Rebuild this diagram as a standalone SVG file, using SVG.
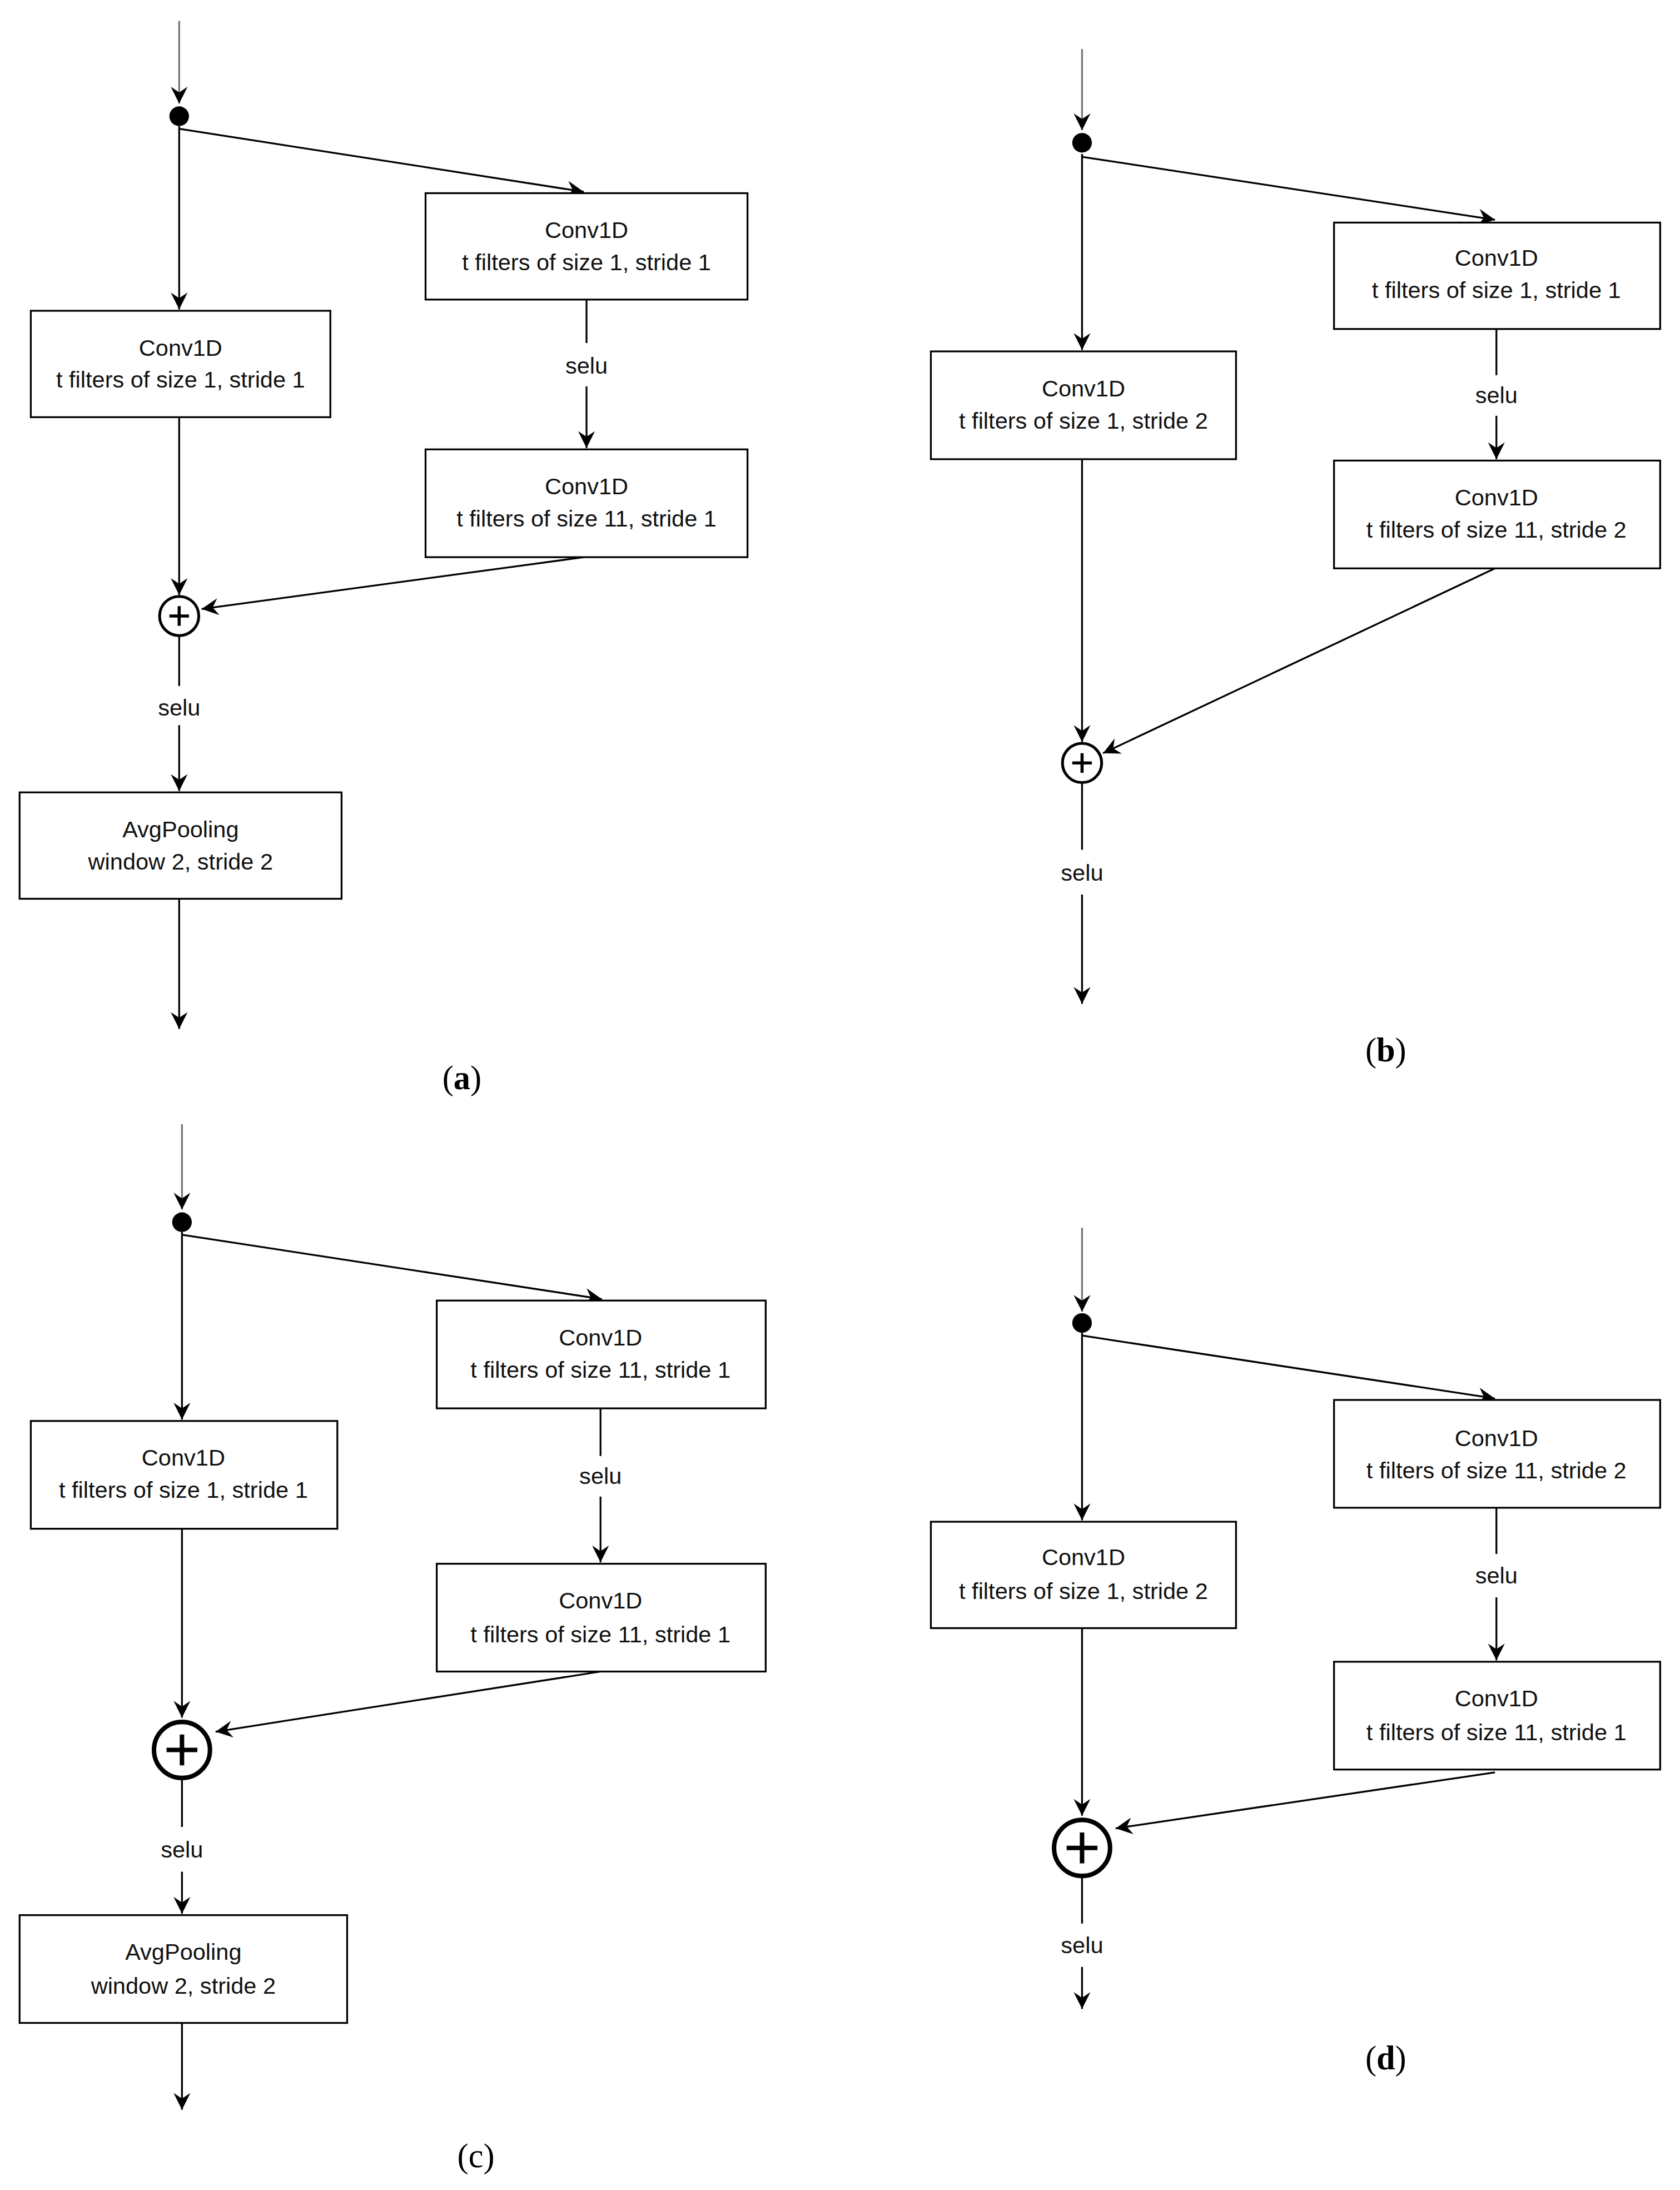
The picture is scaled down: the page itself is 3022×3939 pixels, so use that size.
<svg xmlns="http://www.w3.org/2000/svg" width="3022" height="3939" viewBox="0 0 3022 3939">
<style>
.b{fill:#fff;stroke:#000;stroke-width:1.3}
.t{font-family:"Liberation Sans",Arial,sans-serif;font-size:16.5px;text-anchor:middle;fill:#111}
.c line,.c path{stroke:#000;stroke-width:1.3;fill:none}
.c .g{stroke:#777}
.a{marker-end:url(#ah)}
.cap{font-family:"Liberation Serif","Times New Roman",serif;font-size:24px;text-anchor:middle}
.sum{fill:#fff;stroke:#000}
</style>
<defs>
<marker id="ah" markerUnits="userSpaceOnUse" markerWidth="14" markerHeight="14" viewBox="0 0 14 14" refX="12" refY="7" orient="auto">
<path d="M0,1 L12,7 L0,13 L4,7 Z" fill="#000"/>
</marker>
</defs>
<rect width="3022" height="3939" fill="#fff"/>
<g transform="scale(2.518)">
<g class="c" id="connectors">
<!-- a -->
<line class="g a" x1="128" y1="15" x2="128" y2="74"/>
<line class="a" x1="128" y1="92" x2="417" y2="137"/>
<line class="a" x1="128" y1="90" x2="128" y2="221"/>
<line x1="419" y1="214" x2="419" y2="245"/>
<line class="a" x1="419" y1="276" x2="419" y2="320"/>
<line class="a" x1="128" y1="298" x2="128" y2="425"/>
<line class="a" x1="417" y1="398" x2="144" y2="435"/>
<line x1="128" y1="454" x2="128" y2="490"/>
<line class="a" x1="128" y1="518" x2="128" y2="565"/>
<line class="a" x1="128" y1="642" x2="128" y2="735"/>
<!-- b -->
<line class="g a" x1="773" y1="35" x2="773" y2="93"/>
<line class="a" x1="773" y1="112" x2="1068" y2="157"/>
<line class="a" x1="773" y1="110" x2="773" y2="250"/>
<line x1="1069" y1="235" x2="1069" y2="268"/>
<line class="a" x1="1069" y1="297" x2="1069" y2="328"/>
<line class="a" x1="773" y1="328" x2="773" y2="530"/>
<line class="a" x1="1068" y1="406" x2="788" y2="538"/>
<line x1="773" y1="559" x2="773" y2="607"/>
<line class="a" x1="773" y1="639" x2="773" y2="717"/>
<!-- c -->
<line class="g a" x1="130" y1="803" x2="130" y2="864"/>
<line class="a" x1="130" y1="882" x2="430" y2="928"/>
<line class="a" x1="130" y1="880" x2="130" y2="1014"/>
<line x1="429" y1="1006" x2="429" y2="1040"/>
<line class="a" x1="429" y1="1069" x2="429" y2="1116"/>
<line class="a" x1="130" y1="1092" x2="130" y2="1227"/>
<line class="a" x1="429" y1="1194" x2="154" y2="1237"/>
<line x1="130" y1="1271" x2="130" y2="1305"/>
<line class="a" x1="130" y1="1337" x2="130" y2="1367"/>
<line class="a" x1="130" y1="1445" x2="130" y2="1507"/>
<!-- d -->
<line class="g a" x1="773" y1="877" x2="773" y2="937"/>
<line class="a" x1="773" y1="954" x2="1068" y2="999"/>
<line class="a" x1="773" y1="952" x2="773" y2="1086"/>
<line x1="1069" y1="1077" x2="1069" y2="1110"/>
<line class="a" x1="1069" y1="1141" x2="1069" y2="1186"/>
<line class="a" x1="773" y1="1163" x2="773" y2="1297"/>
<line class="a" x1="1068" y1="1266" x2="797" y2="1306"/>
<line x1="773" y1="1341" x2="773" y2="1374"/>
<line class="a" x1="773" y1="1405" x2="773" y2="1435"/>
</g>
<g id="labels">
<text class="t" x="419" y="267">selu</text>
<text class="t" x="128" y="511">selu</text>
<text class="t" x="1069" y="288">selu</text>
<text class="t" x="773" y="629">selu</text>
<text class="t" x="429" y="1060">selu</text>
<text class="t" x="130" y="1327">selu</text>
<text class="t" x="1069" y="1131">selu</text>
<text class="t" x="773" y="1395">selu</text>
</g>
<!-- panel a -->
<g id="a_split"><circle cx="128" cy="83" r="7" fill="#000"/></g>
<g id="a_convL"><rect class="b" x="22" y="222" width="214" height="76"/><text class="t" x="129" y="254">Conv1D</text><text class="t" x="129" y="277">t filters of size 1, stride 1</text></g>
<g id="a_convR1"><rect class="b" x="304" y="138" width="230" height="76"/><text class="t" x="419" y="170">Conv1D</text><text class="t" x="419" y="193">t filters of size 1, stride 1</text></g>
<g id="a_convR2"><rect class="b" x="304" y="321" width="230" height="77"/><text class="t" x="419" y="353">Conv1D</text><text class="t" x="419" y="376">t filters of size 11, stride 1</text></g>
<g id="a_sum"><circle class="sum" cx="128" cy="440" r="14" stroke-width="2"/><path d="M121,440h14M128,433v14" stroke="#000" stroke-width="2.2"/></g>
<g id="a_pool"><rect class="b" x="14" y="566" width="230" height="76"/><text class="t" x="129" y="598">AvgPooling</text><text class="t" x="129" y="621">window 2, stride 2</text></g>
<text class="cap" x="330" y="778">(<tspan font-weight="bold">a</tspan>)</text>
<!-- panel b -->
<g id="b_split"><circle cx="773" cy="102" r="7" fill="#000"/></g>
<g id="b_convL"><rect class="b" x="665" y="251" width="218" height="77"/><text class="t" x="774" y="283">Conv1D</text><text class="t" x="774" y="306">t filters of size 1, stride 2</text></g>
<g id="b_convR1"><rect class="b" x="953" y="159" width="233" height="76"/><text class="t" x="1069" y="190">Conv1D</text><text class="t" x="1069" y="213">t filters of size 1, stride 1</text></g>
<g id="b_convR2"><rect class="b" x="953" y="329" width="233" height="77"/><text class="t" x="1069" y="361">Conv1D</text><text class="t" x="1069" y="384">t filters of size 11, stride 2</text></g>
<g id="b_sum"><circle class="sum" cx="773" cy="545" r="14" stroke-width="2"/><path d="M766,545h14M773,538v14" stroke="#000" stroke-width="2.2"/></g>
<text class="cap" x="990" y="758">(<tspan font-weight="bold">b</tspan>)</text>
<!-- panel c -->
<g id="c_split"><circle cx="130" cy="873" r="7" fill="#000"/></g>
<g id="c_convL"><rect class="b" x="22" y="1015" width="219" height="77"/><text class="t" x="131" y="1047">Conv1D</text><text class="t" x="131" y="1070">t filters of size 1, stride 1</text></g>
<g id="c_convR1"><rect class="b" x="312" y="929" width="235" height="77"/><text class="t" x="429" y="961">Conv1D</text><text class="t" x="429" y="984">t filters of size 11, stride 1</text></g>
<g id="c_convR2"><rect class="b" x="312" y="1117" width="235" height="77"/><text class="t" x="429" y="1149">Conv1D</text><text class="t" x="429" y="1173">t filters of size 11, stride 1</text></g>
<g id="c_sum"><circle class="sum" cx="130" cy="1250" r="20" stroke-width="3.2"/><path d="M119,1250h22M130,1239v22" stroke="#000" stroke-width="3.2"/></g>
<g id="c_pool"><rect class="b" x="14" y="1368" width="234" height="77"/><text class="t" x="131" y="1400">AvgPooling</text><text class="t" x="131" y="1424">window 2, stride 2</text></g>
<text class="cap" x="340" y="1548">(<tspan>c</tspan>)</text>
<!-- panel d -->
<g id="d_split"><circle cx="773" cy="945" r="7" fill="#000"/></g>
<g id="d_convL"><rect class="b" x="665" y="1087" width="218" height="76"/><text class="t" x="774" y="1118">Conv1D</text><text class="t" x="774" y="1142">t filters of size 1, stride 2</text></g>
<g id="d_convR1"><rect class="b" x="953" y="1000" width="233" height="77"/><text class="t" x="1069" y="1033">Conv1D</text><text class="t" x="1069" y="1056">t filters of size 11, stride 2</text></g>
<g id="d_convR2"><rect class="b" x="953" y="1187" width="233" height="77"/><text class="t" x="1069" y="1219">Conv1D</text><text class="t" x="1069" y="1243">t filters of size 11, stride 1</text></g>
<g id="d_sum"><circle class="sum" cx="773" cy="1320" r="20" stroke-width="3.2"/><path d="M762,1320h22M773,1309v22" stroke="#000" stroke-width="3.2"/></g>
<text class="cap" x="990" y="1478">(<tspan font-weight="bold">d</tspan>)</text>
</g>
</svg>
